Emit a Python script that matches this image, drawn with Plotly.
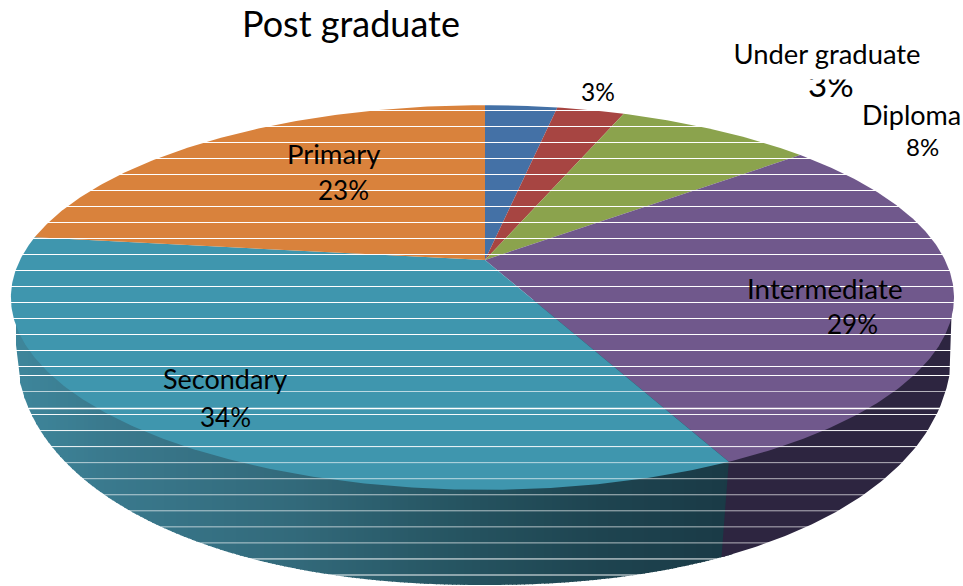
import math
import numpy as np
import plotly.graph_objects as go

# ---- data ----
categories = ["Post graduate", "Under graduate", "Diploma", "Intermediate", "Secondary", "Primary"]
values = [3.0, 2.8, 8.2, 28.8, 34.2, 23.0]
colors = ["#4471a6", "#a74542", "#8ba34d", "#70588c", "#3f96ae", "#d9823c"]
wall_purple = "#2d2540"
wall_stops_x = [16, 100, 300, 450, 600, 730]
wall_stops_rgb = [(62, 134, 155), (58, 122, 142), (50, 105, 122), (38, 85, 98), (30, 68, 80), (26, 58, 70)]

W, H = 963, 586
# perspective of the pie's top disc
CX, CY, A_L, A_R, B, D = 485.0, 260.0, 465.0, 460.0, 185.0, 5.13
# outline of the bottom of the pie wall
BX, BY, BRX, BRY, BN = 484.0, 345.0, 468.0, 240.0, 2.15


def project(theta):
    u, v = math.sin(theta), math.cos(theta)
    s = D / (D + v)
    return CX + (A_R if u > 0 else A_L) * u * s, CY - B * v * s


def bottom_y(x):
    t = min(abs(x - BX) / BRX, 1.0)
    return BY + BRY * (1 - t ** BN) ** (1 / BN)


fig = go.Figure()


def poly(xs, ys, color):
    fig.add_trace(go.Scatter(x=list(xs) + [xs[0]], y=list(ys) + [ys[0]], mode="lines", fill="toself",
                             fillcolor=color, line=dict(width=0), hoverinfo="skip", showlegend=False))


total = sum(values)
edges = np.cumsum([0] + values) / total * 2 * math.pi

# wall: teal part as vertical strips, purple part as a single shape
sec_i = categories.index("Secondary")
px_top, py_top = project(edges[sec_i])
px_bot = BX + (px_top - BX) * 0.97
step = 4
for x in np.arange(BX - BRX, px_top + 1, step):
    xm = x + step / 2
    rgb = [int(round(np.interp(xm, wall_stops_x, [c[k] for c in wall_stops_rgb]))) for k in range(3)]
    yb0, yb1 = bottom_y(x), bottom_y(x + step + 1)
    poly([x, x + step + 1, x + step + 1, x], [300, 300, yb1, yb0], f"rgb({rgb[0]},{rgb[1]},{rgb[2]})")

xs_r = np.arange(px_bot, BX + BRX + 0.1, 3)
poly([px_top] + list(xs_r) + [BX + BRX, px_top],
     [py_top] + [bottom_y(x) for x in xs_r] + [300, 300], wall_purple)

# top face
for i, c in enumerate(colors):
    th = np.linspace(edges[i], edges[i + 1], max(8, int(values[i] * 6)))
    pts = [project(t) for t in th]
    poly([CX] + [p[0] for p in pts], [CY] + [p[1] for p in pts], c)

# white scan lines
bands = [(y, 1.0) for y in range(110, 375, 16)]
bands += [(375, 1.0), (391, 0.65), (408, 1.0)]
bands += [(414 + 16.05 * k, 0.65 if 3 <= k <= 8 else 0.95) for k in range(11)]
for y, a in bands:
    fig.add_shape(type="line", x0=0, x1=W, y0=y + 0.5, y1=y + 0.5, layer="above",
                  line=dict(color=f"rgba(255,255,255,{a})", width=1.4 if y == 408 else 1))

FONT = "Lato"


def label(x, y, text, size, **kw):
    fig.add_annotation(x=x, y=y, text=text, showarrow=False, xanchor="center", yanchor="middle",
                       font=dict(family=FONT, size=size, color="#000000"), **kw)


pct = [f"{round(v)}%" for v in values]
label(351, 23, categories[0], 36)
label(598, 91, pct[0], 24.5)
label(831, 84, pct[1], 33)
label(827, 53, categories[1], 27.4, bgcolor="#ffffff", width=200, height=50)
label(911, 114, categories[2], 27)
label(922, 146, pct[2], 24)
label(825, 288.5, categories[3], 27.8)
label(852, 324, pct[3], 26)
label(225, 378.5, categories[4], 27)
label(225, 417, pct[4], 26)
label(333, 153.5, categories[5], 27.5)
label(343, 190, pct[5], 26)

fig.update_layout(width=W, height=H, margin=dict(l=0, r=0, t=0, b=0), paper_bgcolor="#ffffff",
                  plot_bgcolor="#ffffff", showlegend=False,
                  xaxis=dict(range=[0, W], visible=False, fixedrange=True),
                  yaxis=dict(range=[H, 0], visible=False, fixedrange=True))
fig.write_html("out.html", config={"displayModeBar": False},
               post_script="document.body.style.margin='0';")
